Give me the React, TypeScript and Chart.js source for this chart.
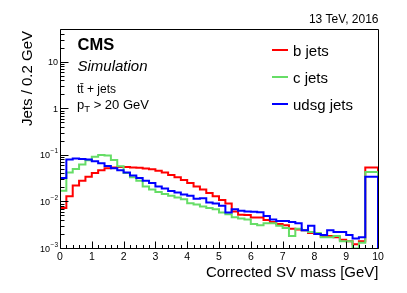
import React, { useEffect, useRef } from "react";
import { Chart, registerables } from "chart.js";

Chart.register(...registerables);

// ---- data -------------------------------------------------------------
const BIN_WIDTH = 0.2; // GeV
const X_MIN = 0;
const X_MAX = 10;
const Y_MIN = 1e-3;
const Y_MAX = 51;

const X_TICKS = [0, 1, 2, 3, 4, 5, 6, 7, 8, 9, 10];
const Y_DECADES = [1e-3, 1e-2, 1e-1, 1, 10];
const Y_TICK_BASE = ["10", "10", "10", "1", "10"];
const Y_TICK_EXP = ["\u22123", "\u22122", "\u22121", "", ""];

const SERIES_NAMES = ["b jets", "c jets", "udsg jets"];
const SERIES_COLORS = ["#ff0000", "#66dd66", "#0000ff"];

const B_JETS = [
  0, 0.0072, 0.013, 0.022, 0.028, 0.034, 0.041, 0.047, 0.052, 0.054,
  0.055, 0.055, 0.054, 0.053, 0.051, 0.049, 0.046, 0.042, 0.037, 0.033,
  0.029, 0.025, 0.021, 0.018, 0.0152, 0.013, 0.0108, 0.0091, 0.0061, 0.0052,
  0.0051, 0.0045, 0.0045, 0.004, 0.0036, 0.0033, 0.0031, 0.0026, 0.0025, 0.0024,
  0.0021, 0.002, 0.00175, 0.0018, 0.0017, 0.0015, 0.0014, 0.0012, 0.0014, 0.054,
];
const C_JETS = [
  0, 0.017, 0.042, 0.05, 0.062, 0.077, 0.092, 0.1, 0.097, 0.078,
  0.057, 0.041, 0.033, 0.028, 0.021, 0.018, 0.016, 0.0145, 0.0133, 0.0122,
  0.0112, 0.0092, 0.0086, 0.0078, 0.0072, 0.0068, 0.0058, 0.0053, 0.0046, 0.0043,
  0.0041, 0.0033, 0.0031, 0.0034, 0.0034, 0.003, 0.0027, 0.0018, 0.0026, 0.0024,
  0.0022, 0.0021, 0.0017, 0.0017, 0.0018, 0.0014, 0.0014, 0.00097, 0.0013, 0.043,
];
const UDSG_JETS = [
  0, 0.032, 0.08, 0.084, 0.082, 0.08, 0.073, 0.066, 0.058, 0.052,
  0.047, 0.042, 0.036, 0.032, 0.028, 0.025, 0.021, 0.019, 0.0168, 0.0155,
  0.0142, 0.0133, 0.0114, 0.0118, 0.0095, 0.009, 0.0081, 0.0058, 0.0068, 0.0063,
  0.0061, 0.006, 0.0059, 0.0049, 0.0041, 0.0038, 0.0038, 0.0036, 0.0034, 0.0024,
  0.003, 0.002, 0.0019, 0.0024, 0.0022, 0.0022, 0.0019, 0.0016, 0.0017, 0.034,
];
const SERIES = [B_JETS, C_JETS, UDSG_JETS];

const FLOOR = 1e-7; // empty bins: drawn below the visible range

const FONT = "'Liberation Sans', Arial, Helvetica, sans-serif";

// histogram outline: a point at each bin's lower edge + closing edges
function histPoints(values: number[]) {
  const pts: { x: number; y: number }[] = [];
  values.forEach((v, i) => {
    pts.push({ x: X_MIN + i * BIN_WIDTH, y: v > 0 ? v : FLOOR });
  });
  const last = values[values.length - 1];
  pts.push({ x: X_MAX, y: last > 0 ? last : FLOOR });
  pts.push({ x: X_MAX, y: FLOOR });
  return pts;
}

const rootStyle = {
  id: "rootStyle",
  afterDatasetsDraw(chart: any) {
    const { ctx, chartArea: a, scales } = chart;
    const xs = scales.x;
    const ys = scales.y;
    const L = Math.round(a.left) + 0.5;
    const R = Math.round(a.right) + 0.5;
    const T = Math.round(a.top) + 0.5;
    const B = Math.round(a.bottom) + 0.5;
    ctx.save();
    ctx.strokeStyle = "#000";
    ctx.lineWidth = 1;
    ctx.beginPath();
    ctx.rect(L, T, R - L, B - T);
    ctx.stroke();

    // x ticks (inside, from bottom)
    ctx.beginPath();
    const nMinor = Math.round((X_MAX - X_MIN) / BIN_WIDTH);
    for (let i = 0; i <= nMinor; i++) {
      const v = X_MIN + i * BIN_WIDTH;
      const px = Math.round(xs.getPixelForValue(v)) + 0.5;
      const major = i % 5 === 0;
      ctx.moveTo(px, B);
      ctx.lineTo(px, B - (major ? 7 : 3.5));
    }
    // y ticks (inside, from left)
    for (let d = 0; d < Y_DECADES.length; d++) {
      for (let k = 1; k <= 9; k++) {
        const v = Y_DECADES[d] * k;
        if (v < Y_MIN || v > Y_MAX) continue;
        const py = Math.round(ys.getPixelForValue(v)) + 0.5;
        ctx.moveTo(L, py);
        ctx.lineTo(L + (k === 1 ? 8 : 4), py);
      }
    }
    ctx.stroke();

    ctx.fillStyle = "#000";
    // x tick labels
    ctx.font = `10.5px ${FONT}`;
    ctx.textAlign = "center";
    ctx.textBaseline = "alphabetic";
    X_TICKS.forEach((v) => {
      ctx.fillText(String(v), xs.getPixelForValue(v), B + 11);
    });
    // y tick labels with exponent
    Y_DECADES.forEach((v, i) => {
      const py = ys.getPixelForValue(v);
      const base = Y_TICK_BASE[i];
      const exp = Y_TICK_EXP[i];
      const right = L - 2.5;
      ctx.font = `6.5px ${FONT}`;
      const ew = exp ? ctx.measureText(exp).width : 0;
      ctx.textAlign = "right";
      if (exp) ctx.fillText(exp, right, py - 1.5);
      ctx.font = `9px ${FONT}`;
      ctx.fillText(base, right - ew - (exp ? 0.5 : 0), py + 3.5);
    });

    // axis titles
    ctx.font = `15px ${FONT}`;
    ctx.textAlign = "right";
    ctx.fillText("Corrected SV mass [GeV]", R, 277);
    ctx.save();
    ctx.translate(31.5, T + 1.5);
    ctx.rotate(-Math.PI / 2);
    ctx.textAlign = "right";
    ctx.fillText("Jets / 0.2 GeV", 0, 0);
    ctx.restore();

    // top-right label
    ctx.font = `12px ${FONT}`;
    ctx.textAlign = "right";
    ctx.fillText("13 TeV, 2016", R, 23);

    // CMS labels
    ctx.textAlign = "left";
    ctx.font = `bold 16.5px ${FONT}`;
    ctx.fillText("CMS", 77.5, 50);
    ctx.font = `italic 15px ${FONT}`;
    ctx.fillText("Simulation", 77.5, 70.5);
    ctx.font = `12px ${FONT}`;
    ctx.fillText("tt\u0304 + jets", 77, 93);
    ctx.font = `13px ${FONT}`;
    ctx.fillText("p", 77, 108.5);
    const pw = ctx.measureText("p").width;
    ctx.font = `9.5px ${FONT}`;
    ctx.fillText("T", 77 + pw, 112);
    const tw = ctx.measureText("T").width;
    ctx.font = `13px ${FONT}`;
    ctx.fillText(" > 20 GeV", 77 + pw + tw, 108.5);

    // legend
    const legendY = [50, 77, 104];
    SERIES_NAMES.forEach((name, i) => {
      const y = legendY[i];
      ctx.strokeStyle = SERIES_COLORS[i];
      ctx.lineWidth = 2;
      ctx.beginPath();
      ctx.moveTo(272, y);
      ctx.lineTo(288, y);
      ctx.stroke();
      ctx.fillStyle = "#000";
      ctx.font = `15px ${FONT}`;
      ctx.textAlign = "left";
      ctx.fillText(name, 293, y + 5.5);
    });
    ctx.restore();
  },
};

export default function App() {
  const ref = useRef<HTMLCanvasElement | null>(null);
  useEffect(() => {
    if (!ref.current) return;
    const datasets = SERIES.map((vals, i) => ({
      label: SERIES_NAMES[i],
      data: histPoints(vals),
      borderColor: SERIES_COLORS[i],
      backgroundColor: SERIES_COLORS[i],
      borderWidth: 2,
      pointRadius: 0,
      stepped: "after" as const,
      fill: false,
      tension: 0,
      order: 3 - i,
    }));
    const chart = new Chart(ref.current, {
      type: "line",
      data: { datasets },
      options: {
        animation: false,
        responsive: false,
        devicePixelRatio: 1,
        layout: { padding: { left: 60, right: 29, top: 29, bottom: 45 } },
        plugins: { legend: { display: false }, tooltip: { enabled: false } },
        scales: {
          x: { type: "linear", min: X_MIN, max: X_MAX, display: false },
          y: { type: "logarithmic", min: Y_MIN, max: Y_MAX, display: false },
        },
      },
      plugins: [rootStyle],
    });
    return () => chart.destroy();
  }, []);
  return (
    <div style={{ position: "fixed", left: 0, top: 0, width: 407, height: 293, background: "#fff" }}>
      <canvas ref={ref} width={407} height={293} style={{ width: 407, height: 293, display: "block" }} />
    </div>
  );
}
